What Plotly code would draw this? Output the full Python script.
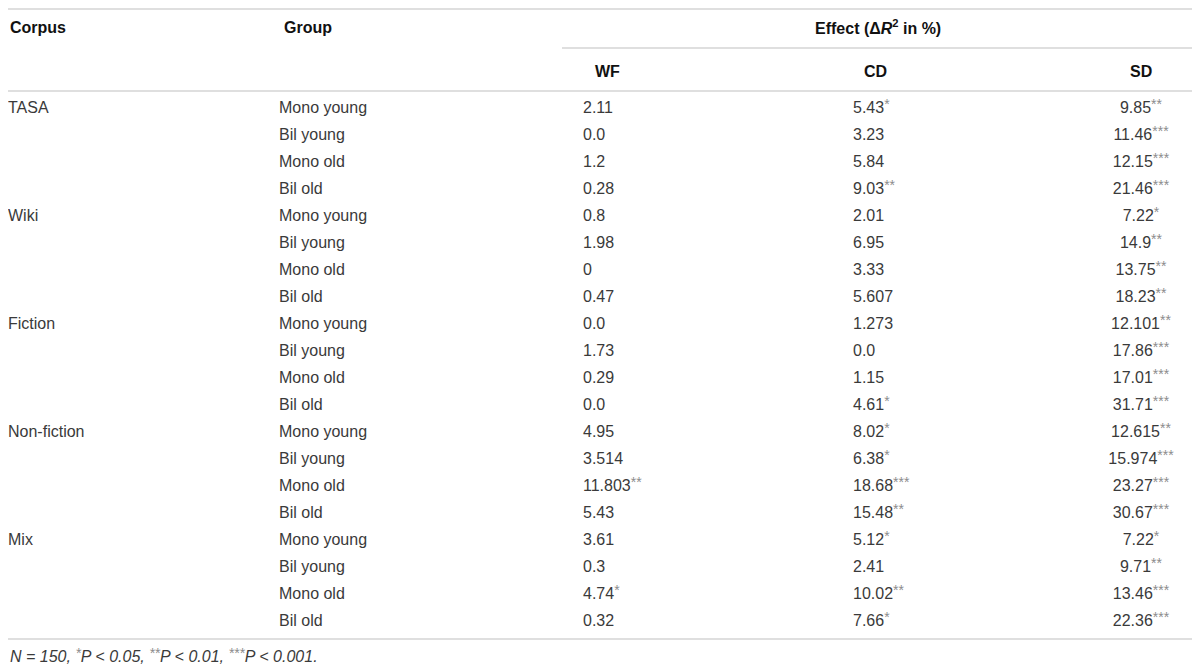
import plotly.graph_objects as go

# Table content
corpora = ["TASA", "Wiki", "Fiction", "Non-fiction", "Mix"]
groups = ["Mono young", "Bil young", "Mono old", "Bil old"]

wf = ["2.11", "0.0", "1.2", "0.28", "0.8", "1.98", "0", "0.47", "0.0", "1.73",
      "0.29", "0.0", "4.95", "3.514", "11.803", "5.43", "3.61", "0.3", "4.74", "0.32"]
wf_sig = ["", "", "", "", "", "", "", "", "", "",
          "", "", "", "", "**", "", "", "", "*", ""]

cd = ["5.43", "3.23", "5.84", "9.03", "2.01", "6.95", "3.33", "5.607", "1.273", "0.0",
      "1.15", "4.61", "8.02", "6.38", "18.68", "15.48", "5.12", "2.41", "10.02", "7.66"]
cd_sig = ["*", "", "", "**", "", "", "", "", "", "",
          "", "*", "*", "*", "***", "**", "*", "", "**", "*"]

sd = ["9.85", "11.46", "12.15", "21.46", "7.22", "14.9", "13.75", "18.23", "12.101", "17.86",
      "17.01", "31.71", "12.615", "15.974", "23.27", "30.67", "7.22", "9.71", "13.46", "22.36"]
sd_sig = ["**", "***", "***", "***", "*", "**", "**", "**", "**", "***",
          "***", "***", "**", "***", "***", "***", "*", "**", "***", "***"]

col_headers = ["WF", "CD", "SD"]

# Layout geometry, in page pixels (the page body has an 8px margin)
W, H = 1200, 669
body = 8
row0, pitch = 109, 27
x_corpus, x_group = 8, 279
x_cols = [583, 853, 1141]
text_color = "#3a3a3a"
star_color = "#8c8c8c"
rule_color = "#d4d4d4"
fsize = 16
font_family = "Liberation Sans, Arial, sans-serif"

n_rows = len(wf)
row_y = [row0 + i * pitch for i in range(n_rows)]


def star(s):
    # significance marks: small grey asterisks lifted to the top of the digits
    if not s:
        return ""
    return f'<span style="font-size:14px;fill:{star_color};baseline-shift:4px">{s}</span>'


def cell(vals, sigs):
    return [v + star(s) for v, s in zip(vals, sigs)]


footnote = (f"<i>N = 150, {star('*')}P &lt; 0.05, "
            f"{star('**')}P &lt; 0.01, {star('***')}P &lt; 0.001.</i>")

fig = go.Figure()

# Corpus column (one label every four rows)
fig.add_trace(go.Scatter(
    x=[x_corpus] * len(corpora),
    y=[row_y[i * len(groups)] for i in range(len(corpora))],
    text=corpora, mode="text", textposition="middle right",
    textfont=dict(size=fsize, color=text_color, family=font_family),
    cliponaxis=False, hoverinfo="skip"))

# Group column
fig.add_trace(go.Scatter(
    x=[x_group] * n_rows, y=row_y,
    text=groups * len(corpora), mode="text", textposition="middle right",
    textfont=dict(size=fsize, color=text_color, family=font_family),
    hoverinfo="skip"))

# Effect columns
for xc, vals, sigs, pos in [(x_cols[0], wf, wf_sig, "middle right"),
                            (x_cols[1], cd, cd_sig, "middle right"),
                            (x_cols[2], sd, sd_sig, "middle center")]:
    fig.add_trace(go.Scatter(
        x=[xc] * n_rows, y=row_y,
        text=cell(vals, sigs), mode="text", textposition=pos,
        textfont=dict(size=fsize, color=text_color, family=font_family),
        hoverinfo="skip"))

# Headers
hdr_font = dict(size=fsize, color="#111111", family=font_family)
annos = [
    dict(x=x_corpus, y=27, text="<b>Corpus</b>", xanchor="left"),
    dict(x=x_group + 3, y=27, text="<b>Group</b>", xanchor="left"),
    dict(x=878, y=27, text="<b>Effect (Δ<i>R</i><sup>2</sup> in %)</b>", xanchor="center"),
    dict(x=x_cols[0] + 10, y=71, text=f"<b>{col_headers[0]}</b>", xanchor="left"),
    dict(x=875, y=71, text=f"<b>{col_headers[1]}</b>", xanchor="center"),
    dict(x=x_cols[2], y=71, text=f"<b>{col_headers[2]}</b>", xanchor="center"),
    dict(x=body, y=655, text=footnote, xanchor="left",
         font=dict(size=fsize, color=text_color, family=font_family)),
]
for a in annos:
    a.setdefault("font", hdr_font)
    fig.add_annotation(xref="x", yref="y", yanchor="middle", showarrow=False, **a)

# Horizontal rules (the top one sits just inside the page body)
for x0, x1, y in [(body, 1194, body + 1), (562, 1194, 48), (body, 1194, 91), (body, 1194, 639)]:
    fig.add_shape(type="line", xref="x", yref="y", x0=x0, x1=x1, y0=y, y1=y,
                  line=dict(color=rule_color, width=1.6))

fig.update_layout(
    width=W - body, height=H - body,
    margin=dict(l=0, r=0, t=0, b=0),
    paper_bgcolor="white", plot_bgcolor="white",
    showlegend=False,
    xaxis=dict(range=[body, W], visible=False, fixedrange=True),
    yaxis=dict(range=[H, body], visible=False, fixedrange=True),
)

fig.write_html("out.html")
